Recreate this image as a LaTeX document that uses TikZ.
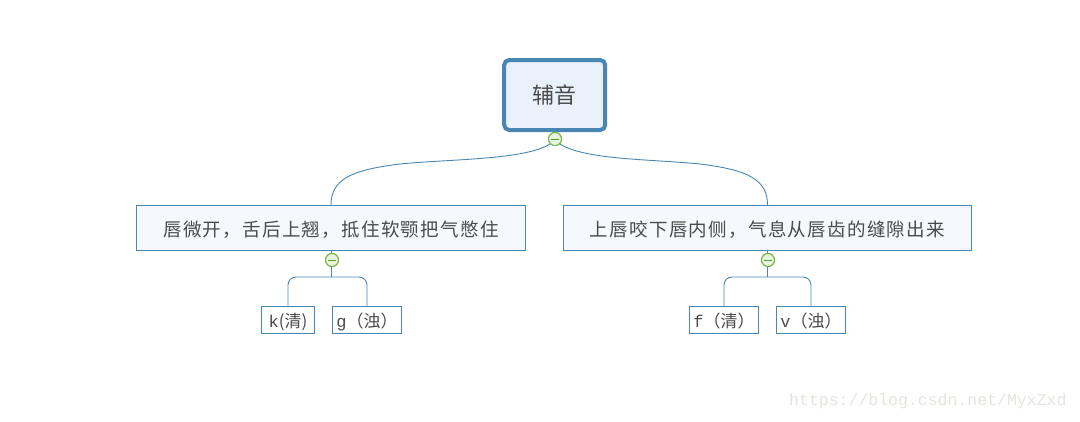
\documentclass[tikz,border=0pt]{standalone}
\usepackage{fontspec}
\setmainfont{Noto Sans CJK SC}
\newfontfamily\latinmono{Liberation Mono}
\usetikzlibrary{calc}
\definecolor{edgeblue}{HTML}{4A86B4}
\definecolor{rootfill}{HTML}{E9F1FB}
\definecolor{childfill}{HTML}{F5F8FC}
\definecolor{inkgray}{HTML}{4A4A4A}
\definecolor{togglegreen}{HTML}{74B644}
\definecolor{togglefill}{HTML}{E8F2E0}
\definecolor{minusgreen}{HTML}{55A020}
\definecolor{markgray}{HTML}{E4E4DF}
\tikzset{
  x=1pt,y=-1pt,
  rootbox/.style={draw=edgeblue,line width=4pt,fill=rootfill,rounded corners=5pt,
    minimum width=101pt,minimum height=70pt,inner sep=0pt,text=inkgray,font=\fontsize{22}{24}\selectfont},
  childbox/.style={draw=edgeblue,line width=1pt,fill=childfill,minimum height=45pt,inner sep=0pt,
    text height=16pt,text depth=0pt,text=inkgray,font=\fontsize{18.5}{22}\selectfont},
  leafbox/.style={draw=edgeblue,line width=1pt,fill=white,minimum height=27pt,inner sep=0pt,
    text height=15pt,text depth=0pt,text=inkgray,font=\fontsize{17}{20}\selectfont},
  link/.style={draw=edgeblue,line width=0.9pt},
  toggle/.style={circle,draw=togglegreen,line width=1pt,fill=togglefill,minimum size=13pt,inner sep=0pt},
  watermark/.style={text=markgray,font=\latinmono\fontsize{16.5}{18}\selectfont,inner sep=0pt}
}
\begin{document}
\begin{tikzpicture}
\useasboundingbox (0,0) rectangle (1080,421);
% boxes
\node[rootbox] (root) at (554.7,95) {辅音};
\node[childbox,minimum width=389pt] (left) at (331,228) {\addfontfeatures{LetterSpace=7}唇微开，舌后上翘，抵住软颚把气憋住};
\node[childbox,minimum width=408pt] (right) at (767.5,228) {\addfontfeatures{LetterSpace=7}上唇咬下唇内侧，气息从唇齿的缝隙出来};
\node[leafbox,minimum width=53pt] (k) at (288,320) {{\latinmono k}(清)};
\node[leafbox,minimum width=69pt] (g) at (367,320) {{\latinmono g}（浊）};
\node[leafbox,minimum width=69pt] (f) at (724,320) {{\latinmono f}（清）};
\node[leafbox,minimum width=69pt] (v) at (811,320) {{\latinmono v}（浊）};
% toggles
\node[toggle] (troot) at (555,139) {};
\node[toggle] (tleft) at (332,260) {};
\node[toggle] (tright) at (768,260) {};
\coordinate (jleft) at (331,277);
\coordinate (jright) at (767.5,277);
% connectors
\draw[link] (left.north) .. controls (331,180) and (350,170) .. (400,164) .. controls (450,159) and (525,160) .. (troot.south west);
\draw[link] (right.north) .. controls (767.5,180) and (749,170) .. (700,164) .. controls (650,159) and (585,160) .. (troot.south east);
\draw[link] (left.south -| jleft) -- (jleft);
\draw[link] (right.south -| jright) -- (jright);
\draw[link,rounded corners=8pt] (k.north) -- (k.north |- jleft) -- (g.north |- jleft) -- (g.north);
\draw[link,rounded corners=8pt] (f.north) -- (f.north |- jright) -- (v.north |- jright) -- (v.north);
\node[toggle] at (troot) {};
\node[toggle] at (tleft) {};
\node[toggle] at (tright) {};
\foreach \t in {troot,tleft,tright}{
  \draw[minusgreen,line width=1pt] ($(\t)+(-4,0)$) -- ($(\t)+(4,0)$);
}
\node[watermark,anchor=west] (mark) at (789,401) {https://blog.csdn.net/MyxZxd};
\end{tikzpicture}
\end{document}
